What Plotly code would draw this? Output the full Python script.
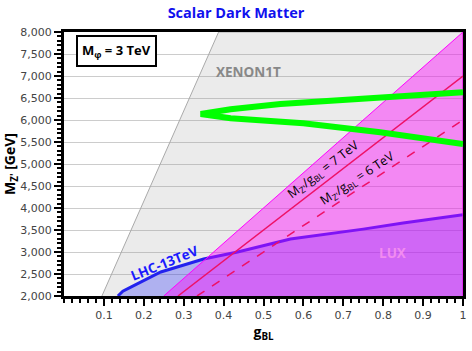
import plotly.graph_objects as go

# XENON1T excluded band (left edge), right of this line
xenon_g = [0.095, 0.3875, 1.0, 1.0]
xenon_m = [2000, 8000, 8000, 2000]

# M_Z'/g_BL = 8 TeV boundary (LUX region below)
lux_g = [0.25, 1.0, 1.0]
lux_m = [2000, 8000, 2000]

# M_Z'/g_BL = 7 TeV and 6 TeV lines
r7_g = [0.2857, 1.0]
r7_m = [2000, 7000]
r6_g = [0.3333, 1.0]
r6_m = [2000, 6000]

# LHC-13TeV limit
lhc_g = [0.135, 0.1475, 0.1675, 0.2425, 0.35, 0.435, 0.5675, 0.6675, 0.75, 0.85, 1.0]
lhc_m = [2000, 2110, 2200, 2545, 2840, 3000, 3295, 3410, 3520, 3660, 3845]

# relic density curve (green)
relic_g = [1.0, 0.7925, 0.6, 0.5, 0.4175, 0.3425, 0.4175, 0.5425, 0.6, 0.7925, 1.0]
relic_m = [5455, 5720, 5925, 5975, 6038, 6136, 6243, 6364, 6395, 6516, 6630]

x_ticks = [0.1, 0.2, 0.3, 0.4, 0.5, 0.6, 0.7, 0.8, 0.9, 1.0]
x_labels = ["0.1", "0.2", "0.3", "0.4", "0.5", "0.6", "0.7", "0.8", "0.9", "1"]

FONT = "DejaVu Sans"
BOLD_FONT = "Open Sans"

fig = go.Figure()

fig.add_trace(go.Scatter(
    x=xenon_g, y=xenon_m, fill='toself', mode='lines',
    fillcolor='rgba(150,150,150,0.19)',
    line=dict(color='#aaaaaa', width=1), hoverinfo='skip',
))
fig.add_trace(go.Scatter(
    x=lhc_g, y=lhc_m, fill='tozeroy', mode='lines',
    fillcolor='rgba(20,30,255,0.28)',
    line=dict(color='#2222ee', width=3), hoverinfo='skip',
))
fig.add_trace(go.Scatter(
    x=lux_g, y=lux_m, fill='toself', mode='lines',
    fillcolor='rgba(255,0,255,0.42)',
    line=dict(color='#ff00ff', width=1), hoverinfo='skip',
))
fig.add_trace(go.Scatter(
    x=r7_g, y=r7_m, mode='lines',
    line=dict(color='#ee1166', width=1.5), hoverinfo='skip',
))
fig.add_trace(go.Scatter(
    x=r6_g, y=r6_m, mode='lines',
    line=dict(color='#ee1166', width=1.5, dash='dash'), hoverinfo='skip',
))
fig.add_trace(go.Scatter(
    x=relic_g, y=relic_m, mode='lines',
    line=dict(color='#00ff00', width=6), hoverinfo='skip',
))

annotations = [
    dict(x=0.1325, y=7570, text="<b>M<sub>φ</sub> = 3 TeV</b>", showarrow=False,
         font=dict(family=BOLD_FONT, size=13, color='black'), bordercolor='black',
         borderwidth=2, borderpad=4, bgcolor='white'),
    dict(x=0.4625, y=7090, text="<b>XENON1T</b>", showarrow=False,
         font=dict(family=BOLD_FONT, size=13.5, color='#888888')),
    dict(x=0.8225, y=2980, text="<b>LUX</b>", showarrow=False,
         font=dict(family=BOLD_FONT, size=13.5, color='#f28cf0')),
    dict(x=0.2525, y=2740, text="<b>LHC-13TeV</b>", showarrow=False, textangle=-22,
         font=dict(family=BOLD_FONT, size=13.5, color='#1a1aff')),
    dict(x=0.6525, y=4864, text="M<sub>Z'</sub>/g<sub>BL</sub> = 7 TeV", showarrow=False,
         textangle=-37.6, font=dict(family=BOLD_FONT, size=12.5, color='black')),
    dict(x=0.7375, y=4660, text="M<sub>Z'</sub>/g<sub>BL</sub> = 6 TeV", showarrow=False,
         textangle=-33.4, font=dict(family=BOLD_FONT, size=12.5, color='black')),
]

fig.update_layout(
    width=472, height=351,
    margin=dict(l=64, r=9, t=32, b=55),
    paper_bgcolor='white', plot_bgcolor='white',
    showlegend=False,
    font=dict(family=FONT, size=11, color='#444444'),
    title=dict(text="<b>Scalar Dark Matter</b>", x=0.5, xanchor='center',
               y=0.963, yanchor='middle',
               font=dict(family=BOLD_FONT, size=14.5, color='#1010ee')),
    annotations=annotations,
    xaxis=dict(
        range=[0, 1], tickvals=x_ticks, ticktext=x_labels, automargin=False,
        ticks='outside', ticklen=7, tickwidth=1.5, tickcolor='black',
        minor=dict(dtick=0.02, tick0=0, ticks='outside', ticklen=4, tickcolor='black'),
        showgrid=False, zeroline=False,
        showline=True, linecolor='black', linewidth=3, mirror=True,
        title=dict(text="<b>g<sub>BL</sub></b>",
                   font=dict(family=BOLD_FONT, size=14, color='black'), standoff=2),
    ),
    yaxis=dict(
        range=[2000, 8000], dtick=500, tickformat=',d', automargin=False,
        ticks='outside', ticklen=7, tickwidth=1.5, tickcolor='black',
        minor=dict(dtick=100, ticks='outside', ticklen=4, tickcolor='black', showgrid=False),
        showgrid=True, gridcolor='#cccccc', gridwidth=1, zeroline=False,
        showline=True, linecolor='black', linewidth=3, mirror=True,
        title=dict(text="<b>M<sub>Z'</sub> [GeV]</b>",
                   font=dict(family=BOLD_FONT, size=14, color='black'), standoff=4),
    ),
    yaxis2=dict(
        range=[2000, 8000], dtick=500, overlaying='y', side='right', automargin=False,
        ticks='inside', ticklen=7, tickwidth=1.5, tickcolor='black',
        minor=dict(dtick=100, ticks='inside', ticklen=4, tickcolor='black'),
        showticklabels=False, showgrid=False, zeroline=False, showline=False,
    ),
)

# the page's default body margin would shift the 472x351 figure off the window
fig.write_html("out.html", config={'displayModeBar': False},
               post_script="document.body.style.margin='0';")
